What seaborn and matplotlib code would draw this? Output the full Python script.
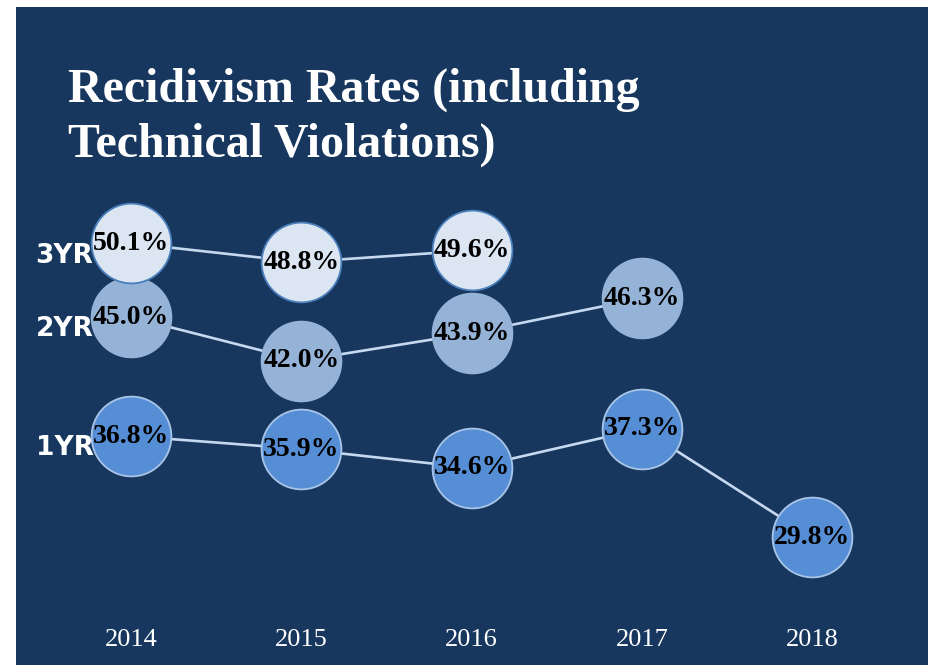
import matplotlib
matplotlib.use("Agg")
import matplotlib.pyplot as plt
import seaborn as sns
import pandas as pd

# data
years = ["2014", "2015", "2016", "2017", "2018"]
rate_1yr = [36.8, 35.9, 34.6, 37.3, 29.8]
rate_2yr = [45.0, 42.0, 43.9, 46.3]
rate_3yr = [50.1, 48.8, 49.6]
series_names = ["1YR", "2YR", "3YR"]

NAVY = "#17375E"
fills = {"1YR": "#558ED5", "2YR": "#95B3D7", "3YR": "#DCE6F2"}
edges = {"1YR": "#A9C4E6", "2YR": "#95B3D7", "3YR": "#4A7EBB"}
LINE = "#C6D9F1"

rows = []
for name, vals in zip(series_names, [rate_1yr, rate_2yr, rate_3yr]):
    for i, v in enumerate(vals):
        rows.append({"series": name, "idx": i, "year": years[i], "rate": v})
df = pd.DataFrame(rows)

sns.set_theme(style="white")
fig = plt.figure(figsize=(9.34, 6.65), dpi=100, facecolor="white")
ax = fig.add_axes([16 / 934, 0, 912 / 934, 658 / 665])
ax.set_facecolor(NAVY)

# connecting lines behind the bubbles
sns.lineplot(data=df, x="idx", y="rate", units="series", estimator=None,
             color=LINE, linewidth=1.9, ax=ax, zorder=1, legend=False)

# bubbles, 1YR first so 3YR sits on top
for k, name in enumerate(series_names):
    sub = df[df["series"] == name]
    sns.scatterplot(data=sub, x="idx", y="rate", s=3300, color=fills[name],
                    edgecolor=edges[name], linewidth=1.3, ax=ax,
                    zorder=3 + k, legend=False)
    for _, r in sub.iterrows():
        ax.text(r["idx"], r["rate"], f"{r['rate']:.1f}%", ha="center",
                va="center", fontsize=20, fontweight="bold", color="black",
                family="Liberation Serif", zorder=10)
    # series label left of the first bubble
    ax.text(-0.39, sub["rate"].iloc[0] - 0.85, name, ha="center", va="center",
            fontsize=19, fontweight="bold", color="white",
            family="DejaVu Sans", zorder=2)

ax.set_xlim(-0.675, 4.68)
ax.set_ylim(21.0, 66.4)
ax.set_xticks(range(len(years)))
ax.set_xticklabels(years, family="Liberation Serif", fontsize=19, color="white")
ax.tick_params(axis="x", length=0, pad=-26)
ax.set_yticks([])
ax.set_xlabel("")
ax.set_ylabel("")
for sp in ax.spines.values():
    sp.set_visible(False)

# title in two lines
fig.text(68 / 934, 1 - 102 / 665, "Recidivism Rates (including",
         fontsize=34.5, fontweight="bold", color="white",
         family="Liberation Serif", va="baseline")
fig.text(68 / 934, 1 - 157 / 665, "Technical Violations)",
         fontsize=34.5, fontweight="bold", color="white",
         family="Liberation Serif", va="baseline")

fig.savefig("out.png", dpi=100, facecolor="white")
